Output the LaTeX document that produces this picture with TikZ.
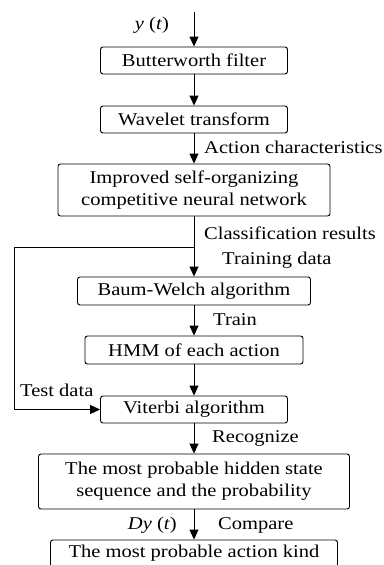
\documentclass[tikz,border=0pt]{standalone}
\usepackage{fontspec}
\setmainfont{Liberation Serif}[FakeStretch=1.14]
\usetikzlibrary{arrows.meta}
\begin{document}
\begin{tikzpicture}[x=1pt,y=-1pt,
  font=\fontsize{18}{21.7}\selectfont,
  box/.style={draw, line width=0.9pt, rounded corners=2.5pt, inner sep=0pt, align=center},
  arr/.style={draw, line width=0.9pt, -{Triangle[length=10pt,width=9pt]}},
  lbl/.style={inner sep=0pt}]
\useasboundingbox (0,0) rectangle (383,565);
\clip (0,0) rectangle (383,565);
\node[box, minimum width=187pt, minimum height=27pt] (b1) at (194,60.5) {Butterworth filter};
\node[box, minimum width=187pt, minimum height=27pt] (b2) at (194,119.5) {Wavelet transform};
\node[box, minimum width=272pt, minimum height=52pt] (b3) at (194,190) {Improved self-organizing\\competitive neural network};
\node[box, minimum width=233pt, minimum height=28pt] (b4) at (194,291) {Baum-Welch algorithm};
\node[box, minimum width=218pt, minimum height=28pt] (b5) at (194,350) {HMM of each action};
\node[box, minimum width=187pt, minimum height=27pt] (b6) at (194,409.5) {Viterbi algorithm};
\node[box, minimum width=311pt, minimum height=55pt] (b7) at (194,481.5) {The most probable hidden state\\sequence and the probability};
\node[box, minimum width=287pt, minimum height=27pt] (b8) at (194,553.5) {The most probable action kind};
\coordinate (in) at (194,12);
\coordinate (br) at (194,247);
\coordinate (lc) at (14,247);
\draw[arr] (in) -- (b1.north);
\draw[arr] (b1.south) -- (b2.north);
\draw[arr] (b2.south) -- (b3.north);
\draw[arr] (b3.south) -- (b4.north);
\draw[arr] (br) -- (lc) |- (b6.west);
\draw[arr] (b4.south) -- (b5.north);
\draw[arr] (b5.south) -- (b6.north);
\draw[arr] (b6.south) -- (b7.north);
\draw[arr] (b7.south) -- (b8.north);
\node[lbl] (ly) at (152,25) {\textit{y} (\textit{t})};
\node[lbl, anchor=west] (l1) at (204,147) {Action characteristics};
\node[lbl, anchor=west] (l2) at (204,233) {Classification results};
\node[lbl, anchor=west] (l3) at (222,260) {Training data};
\node[lbl, anchor=west] (l4) at (213,320) {Train};
\node[lbl, anchor=west] (l5) at (20,390) {Test data};
\node[lbl, anchor=west] (l6) at (212,438) {Recognize};
\node[lbl, anchor=east] (l7) at (177,525) {\textit{Dy} (\textit{t})};
\node[lbl, anchor=west] (l8) at (218,525) {Compare};
\end{tikzpicture}
\end{document}
